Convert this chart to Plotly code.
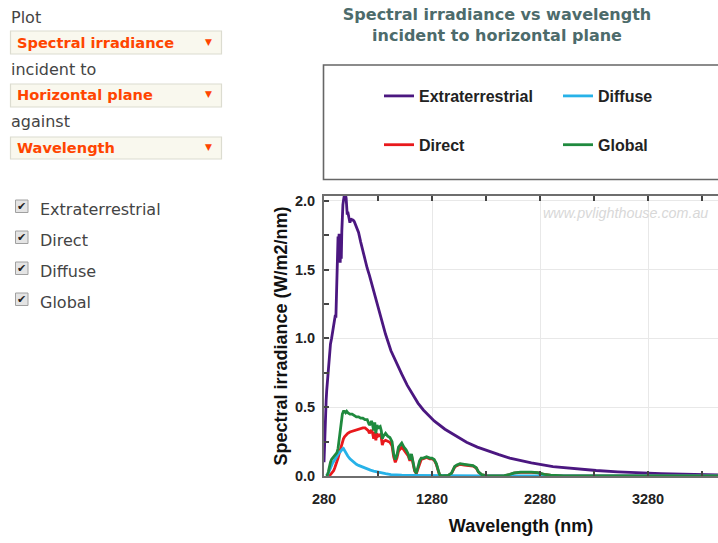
import plotly.graph_objects as go

# ---------------- data ----------------
ext_wl = [280, 285, 290, 295, 300, 305, 310, 320, 330, 340, 350, 360, 370, 380,
          385, 390, 395, 400, 405, 410, 415, 420, 425, 430, 435, 440, 445, 450, 455,
          460, 465, 470, 475, 480, 485, 490, 495, 500, 505, 510, 515, 520, 525, 530,
          540, 550, 560, 570, 580, 590, 600, 620, 640, 660, 680, 700, 720, 740, 760,
          780, 800, 850, 900, 950, 1000, 1050, 1100, 1150, 1200, 1250, 1300, 1400,
          1500, 1600, 1700, 1800, 1900, 2000, 2200, 2400, 2600, 2800, 3000, 3200,
          3400, 3600, 3800, 4000]
ext_val = [0.10, 0.25, 0.42, 0.50, 0.55, 0.62, 0.68, 0.78, 0.90, 0.96, 1.00, 1.05, 1.10, 1.14,
           1.17, 1.15, 1.28, 1.40, 1.62, 1.74, 1.70, 1.76, 1.62, 1.55, 1.70, 1.58, 1.78, 1.93, 1.97,
           2.00, 2.04, 2.05, 2.03, 2.04, 2.02, 1.95, 1.90, 1.92, 1.90, 1.89, 1.88, 1.84, 1.86, 1.87,
           1.86, 1.86, 1.85, 1.83, 1.82, 1.80, 1.77, 1.70, 1.63, 1.56, 1.51, 1.46, 1.40, 1.34, 1.28,
           1.22, 1.16, 1.03, 0.91, 0.82, 0.74, 0.66, 0.59, 0.53, 0.48, 0.44, 0.40, 0.34,
           0.29, 0.245, 0.21, 0.18, 0.155, 0.13, 0.095, 0.068, 0.052, 0.040, 0.030, 0.022,
           0.017, 0.013, 0.010, 0.008]

ground_wl = [300, 310, 320, 330, 340, 350, 360, 370, 380, 390, 400, 410, 420, 430, 440,
             450, 460, 470, 480, 490, 500,
             520, 540, 560, 580, 600, 620, 640, 660, 680,
             690, 700, 710, 720, 730, 740, 750, 760, 770, 780,
             800, 810, 820, 830, 850, 870, 890, 910, 925, 940,
             955, 970, 990, 1000, 1020, 1040, 1060, 1075, 1090, 1105,
             1120, 1135, 1150, 1165, 1180, 1200, 1230, 1260, 1280, 1300,
             1320, 1335, 1350, 1370, 1400, 1430, 1460, 1490, 1510, 1540,
             1580, 1620, 1660, 1690, 1710, 1740, 1780, 1850, 1950, 2000,
             2040, 2100, 2150, 2200, 2260, 2320, 2380, 2450, 2500, 2700,
             3000, 3500, 4000]
global_val = [0.0, 0.005, 0.03, 0.07, 0.10, 0.12, 0.13, 0.14, 0.15, 0.16, 0.17, 0.20, 0.27, 0.35, 0.41,
              0.45, 0.47, 0.47, 0.46, 0.47, 0.46,
              0.45, 0.45, 0.44, 0.43, 0.43, 0.42, 0.42, 0.41, 0.41,
              0.39, 0.37, 0.38, 0.40, 0.37, 0.33, 0.39, 0.31, 0.37, 0.35,
              0.36, 0.33, 0.27, 0.29, 0.31, 0.29, 0.28, 0.25, 0.16, 0.12,
              0.15, 0.21, 0.23, 0.24, 0.21, 0.19, 0.16, 0.12, 0.16, 0.10,
              0.04, 0.02, 0.06, 0.11, 0.13, 0.13, 0.14, 0.13, 0.13, 0.12,
              0.09, 0.05, 0.01, 0.0, 0.0, 0.005, 0.02, 0.07, 0.08, 0.09,
              0.085, 0.08, 0.075, 0.06, 0.03, 0.01, 0.003, 0.001, 0.002, 0.012,
              0.022, 0.028, 0.03, 0.028, 0.024, 0.012, 0.006, 0.003, 0.001, 0.0,
              0.0, 0.0, 0.0]
direct_val = [0.0, 0.0, 0.0, 0.003, 0.01, 0.02, 0.03, 0.04, 0.06, 0.08, 0.10, 0.13, 0.16, 0.19, 0.22,
              0.25, 0.27, 0.285, 0.295, 0.305, 0.31,
              0.32, 0.325, 0.33, 0.34, 0.345, 0.35, 0.35, 0.35, 0.34,
              0.33, 0.31, 0.32, 0.335, 0.31, 0.27, 0.32, 0.26, 0.31, 0.29,
              0.30, 0.28, 0.225, 0.25, 0.26, 0.25, 0.245, 0.22, 0.14, 0.10,
              0.13, 0.18, 0.20, 0.21, 0.19, 0.17, 0.145, 0.11, 0.15, 0.09,
              0.035, 0.018, 0.055, 0.10, 0.12, 0.125, 0.135, 0.125, 0.125, 0.115,
              0.085, 0.045, 0.008, 0.0, 0.0, 0.004, 0.018, 0.065, 0.075, 0.085,
              0.08, 0.078, 0.072, 0.058, 0.028, 0.009, 0.002, 0.0, 0.001, 0.011,
              0.021, 0.027, 0.029, 0.027, 0.023, 0.011, 0.005, 0.002, 0.0, 0.0,
              0.0, 0.0, 0.0]

diffuse_wl = [300, 310, 320, 330, 340, 350, 360, 370, 380, 390, 400, 410, 420, 430, 440,
              450, 460, 470, 480, 490, 500, 520, 540, 560, 580, 600, 620, 650, 680, 710,
              740, 770, 800, 850, 900, 950, 1000, 1100, 1200, 1400, 1600, 1800, 2000,
              2500, 3000, 4000]
diffuse_val = [0.0, 0.005, 0.02, 0.04, 0.06, 0.08, 0.095, 0.105, 0.12, 0.13, 0.145, 0.16, 0.17, 0.175, 0.19,
               0.195, 0.20, 0.185, 0.17, 0.16, 0.145, 0.125, 0.11, 0.095, 0.085, 0.077, 0.07, 0.06, 0.05, 0.043,
               0.036, 0.03, 0.025, 0.017, 0.01, 0.006, 0.006, 0.004, 0.003, 0.001, 0.002, 0.0005, 0.001,
               0.0, 0.0, 0.0]

series_names = ["Extraterrestrial", "Direct", "Diffuse", "Global"]
x_tick_vals = [280, 1280, 2280, 3280]
x_minor_vals = [780, 1780, 2780, 3780]
y_tick_vals = [0.0, 0.5, 1.0, 1.5, 2.0]
y_tick_text = ["0.0", "0.5", "1.0", "1.5", "2.0"]
y_minor_vals = [0.25, 0.75, 1.25, 1.75]

# ---------------- layout geometry (pixels of the 718x543 page) ----------------
W, H = 718, 543
L, T, R, B = 324, 196, 718, 476


def px(x):
    return (x - L) / (R - L)


def py(y):
    return (B - y) / (B - T)


COL = {"Extraterrestrial": "#4b1780", "Direct": "#e8191c",
       "Diffuse": "#27b2e8", "Global": "#1f8a3e"}

fig = go.Figure()
fig.add_trace(go.Scatter(x=ext_wl, y=ext_val, mode="lines", name=series_names[0],
                         line=dict(color=COL["Extraterrestrial"], width=2.8),
                         legend="legend", legendgroup="e"))
fig.add_trace(go.Scatter(x=ground_wl, y=direct_val, mode="lines", name=series_names[1],
                         line=dict(color=COL["Direct"], width=2.8),
                         legend="legend", legendgroup="d"))
fig.add_trace(go.Scatter(x=diffuse_wl, y=diffuse_val, mode="lines", name=series_names[2],
                         line=dict(color=COL["Diffuse"], width=2.8),
                         legend="legend2", legendgroup="f"))
fig.add_trace(go.Scatter(x=ground_wl, y=global_val, mode="lines", name=series_names[3],
                         line=dict(color=COL["Global"], width=2.8),
                         legend="legend2", legendgroup="g"))

axis_font = dict(family="Liberation Sans, Arial, sans-serif", size=14.5, color="#222", weight="bold")
title_font = dict(family="Liberation Sans, Arial, sans-serif", size=18, color="#111", weight="bold")
leg_font = dict(family="Liberation Sans, Arial, sans-serif", size=16, color="#222", weight="bold")
panel_font = dict(family="DejaVu Sans, Verdana, sans-serif", size=16, color="#444")
drop_font = dict(family="DejaVu Sans, Verdana, sans-serif", size=14.6, color="#ff4500", weight="bold")

fig.update_layout(
    width=W, height=H,
    margin=dict(l=L, r=W - R, t=T, b=H - B, pad=0, autoexpand=False),
    paper_bgcolor="white", plot_bgcolor="white",
    showlegend=True,
    title=dict(text="Spectral irradiance vs wavelength<br>incident to horizontal plane",
               x=497 / W, xanchor="center", xref="container",
               y=1 - 20 / H, yanchor="middle", yref="container",
               font=dict(family="DejaVu Sans, Verdana, sans-serif", size=16,
                         color="#4d6b6b", weight="bold")),
    xaxis=dict(range=[280, 280 + (R - L) / 0.108], tickvals=x_tick_vals,
               ticks="inside", ticklen=5, tickwidth=1.5, tickcolor="#444",
               minor=dict(tickvals=x_minor_vals, ticks="inside", ticklen=5,
                          tickwidth=1.5, tickcolor="#444", showgrid=False),
               showline=True, linecolor="#6e6e6e", linewidth=2, mirror="ticks",
               showgrid=True, gridcolor="#e8e8e8", gridwidth=1, zeroline=False,
               tickfont=axis_font, ticklabelstandoff=9, tickangle=0,
               title=dict(text="Wavelength (nm)", font=title_font, standoff=13)),
    yaxis=dict(range=[0, 2.035], tickvals=y_tick_vals, ticktext=y_tick_text,
               ticks="inside", ticklen=5, tickwidth=1.5, tickcolor="#444",
               minor=dict(tickvals=y_minor_vals, ticks="inside", ticklen=5,
                          tickwidth=1.5, tickcolor="#444", showgrid=False),
               showline=True, linecolor="#6e6e6e", linewidth=2, mirror=False,
               showgrid=True, gridcolor="#e8e8e8", gridwidth=1, zeroline=False,
               tickfont=axis_font, ticklabelstandoff=4,
               title=dict(text="Spectral irradiance (W/m2/nm)", font=title_font, standoff=3)),
    legend=dict(xref="container", yref="container", x=379 / W, y=1 - 79 / H,
                xanchor="left", yanchor="top", orientation="v", font=leg_font,
                bgcolor="rgba(0,0,0,0)", borderwidth=0, tracegroupgap=25, itemwidth=30),
    legend2=dict(xref="container", yref="container", x=558 / W, y=1 - 79 / H,
                 xanchor="left", yanchor="top", orientation="v", font=leg_font,
                 bgcolor="rgba(0,0,0,0)", borderwidth=0, tracegroupgap=25, itemwidth=30),
)

shapes = []
annotations = []

# legend frame (clipped by the page on the right, as in the reference)
shapes.append(dict(type="rect", xref="paper", yref="paper",
                   x0=px(323.5), x1=px(730), y0=py(65), y1=py(179.5),
                   line=dict(color="#666", width=1.6), fillcolor="rgba(0,0,0,0)", layer="above"))

# watermark
annotations.append(dict(text="www.pvlighthouse.com.au", xref="paper", yref="paper",
                        x=px(710), y=py(213), xanchor="right", yanchor="middle", showarrow=False,
                        font=dict(family="Liberation Sans, Arial, sans-serif", size=14.3,
                                  color="#d8d8d8", style="italic")))

# ---------------- left control panel ----------------
panel_labels = [("Plot", 17), ("incident to", 69), ("against", 121)]
for txt, yc in panel_labels:
    annotations.append(dict(text=txt, xref="paper", yref="paper", x=px(9), y=py(yc),
                            xanchor="left", yanchor="middle", showarrow=False, font=panel_font))

dropdowns = [("Spectral irradiance", 31, 54), ("Horizontal plane", 84, 107), ("Wavelength", 137, 159)]
for txt, y0, y1 in dropdowns:
    shapes.append(dict(type="rect", xref="paper", yref="paper", x0=px(10.5), x1=px(221.5),
                       y0=py(y0), y1=py(y1), line=dict(color="#dcdcd0", width=1.2),
                       fillcolor="#f9f8ee", layer="below"))
    annotations.append(dict(text=txt, xref="paper", yref="paper", x=px(15), y=py((y0 + y1) / 2 - 0.5),
                            xanchor="left", yanchor="middle", showarrow=False, font=drop_font))
    annotations.append(dict(text="▼", xref="paper", yref="paper", x=px(208.5), y=py((y0 + y1) / 2 - 1),
                            xanchor="center", yanchor="middle", showarrow=False,
                            font=dict(family="DejaVu Sans, sans-serif", size=9, color="#ff4500")))

checks = [("Extraterrestrial", 209), ("Direct", 240), ("Diffuse", 271), ("Global", 302)]
for txt, yc in checks:
    shapes.append(dict(type="rect", xref="paper", yref="paper", x0=px(15.5), x1=px(28),
                       y0=py(yc - 9), y1=py(yc + 3.5), line=dict(color="#a0a0a0", width=1),
                       fillcolor="#e4e4e4", layer="below"))
    annotations.append(dict(text="✔", xref="paper", yref="paper", x=px(21.8), y=py(yc - 3),
                            xanchor="center", yanchor="middle", showarrow=False,
                            font=dict(family="DejaVu Sans, sans-serif", size=11, color="#222")))
    annotations.append(dict(text=txt, xref="paper", yref="paper", x=px(38), y=py(yc),
                            xanchor="left", yanchor="middle", showarrow=False, font=panel_font))

fig.update_layout(shapes=shapes, annotations=annotations)

fig.write_html("out.html", config={"displayModeBar": False})
